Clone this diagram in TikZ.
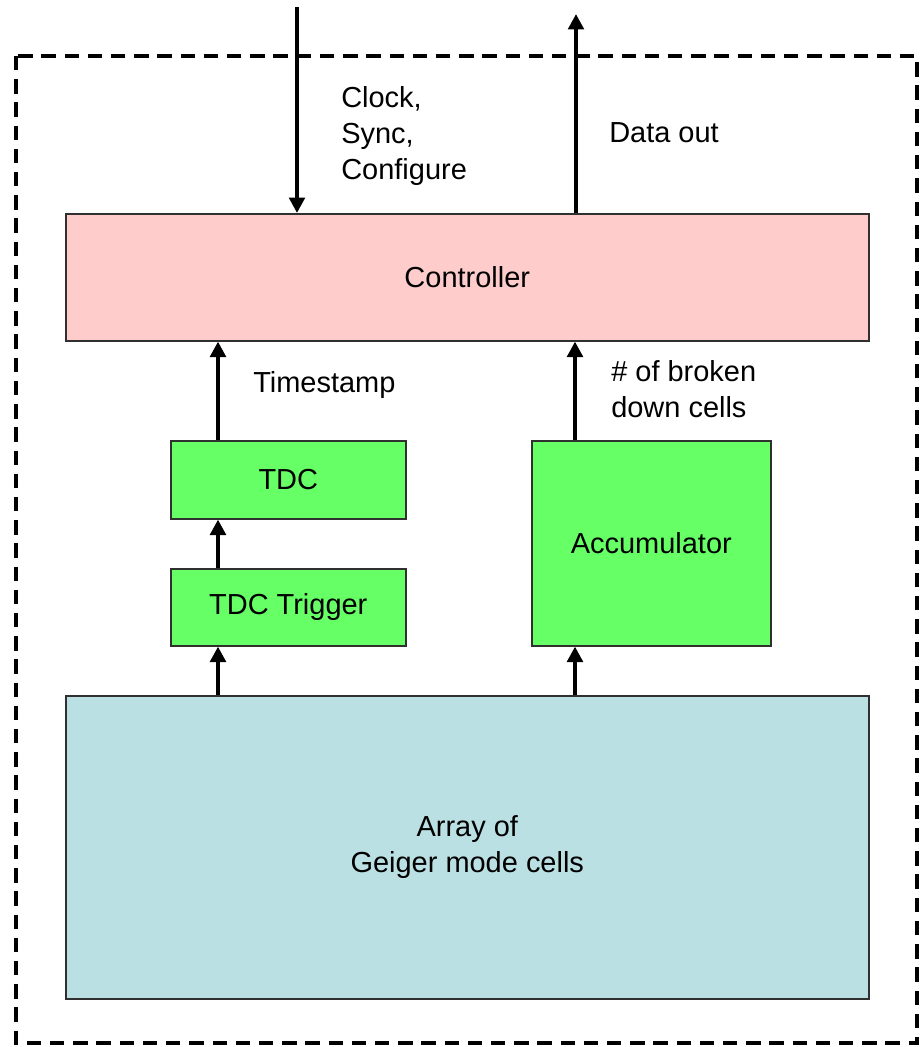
\documentclass[tikz,border=0pt]{standalone}
\usepackage{fontspec}
\setmainfont{Liberation Sans}
\usetikzlibrary{arrows.meta}
\definecolor{CtrlPink}{HTML}{FFCCCC}
\definecolor{BlockGreen}{HTML}{66FF66}
\definecolor{CellBlue}{HTML}{BBE0E3}
\definecolor{EdgeGray}{HTML}{303030}

\tikzset{
  block/.style={draw=EdgeGray,line width=1.1pt,inner sep=0pt,anchor=north west},
  flow/.style={line width=2.8pt,-{Triangle[length=11pt,width=11pt]}},
  lbl/.style={anchor=west,align=left,inner sep=0pt}
}

\begin{document}
\begin{tikzpicture}[x=0.025cm,y=-0.025cm,font=\fontsize{20.6}{25.6}\selectfont]
\path[use as bounding box] (0,0) rectangle (922,1047);
% outer chip boundary
\draw[line width=2.8pt,dash pattern=on 0.36cm off 0.22cm] (16,56) rectangle (917,1043);
% column positions for the data paths
\coordinate (lcol) at (218,0);
\coordinate (rcol) at (575,0);
\coordinate (cfgin) at (297,7);
\coordinate (dout) at (576,14);
% blocks
\node[block,fill=CtrlPink,minimum width=803*0.025cm,minimum height=127*0.025cm] (ctrl) at (65,213) {};
\node at (ctrl.center) {Controller};
\node[block,fill=BlockGreen,minimum width=235*0.025cm,minimum height=78*0.025cm] (tdc) at (170,440) {};
\node at (tdc.center) {TDC};
\node[block,fill=BlockGreen,minimum width=235*0.025cm,minimum height=77*0.025cm] (trig) at (170,568) {};
\node at (trig.center) {TDC Trigger};
\node[block,fill=BlockGreen,minimum width=239*0.025cm,minimum height=205*0.025cm] (acc) at (531,440) {};
\node at (acc.center) {Accumulator};
\node[block,fill=CellBlue,minimum width=803*0.025cm,minimum height=303*0.025cm] (arr) at (65,695) {};
\node[align=center] at (arr.center) {Array of\\Geiger mode cells};
% connections
\draw[flow] (cfgin) -- (ctrl.north -| cfgin);
\draw[flow] (ctrl.north -| dout) -- (dout);
\draw[flow] (tdc.north -| lcol) -- (ctrl.south -| lcol);
\draw[flow] (trig.north -| lcol) -- (tdc.south -| lcol);
\draw[flow] (arr.north -| lcol) -- (trig.south -| lcol);
\draw[flow] (acc.north -| rcol) -- (ctrl.south -| rcol);
\draw[flow] (arr.north -| rcol) -- (acc.south -| rcol);
% signal labels
\node[lbl] (cfglbl) at (341,136) {Clock,\\Sync,\\Configure};
\node[lbl] (doutlbl) at (609,133) {Data out};
\node[lbl] (tslbl) at (253,385) {Timestamp};
\node[lbl] (cntlbl) at (611,389) {\# of broken\\down cells};
\end{tikzpicture}
\end{document}
